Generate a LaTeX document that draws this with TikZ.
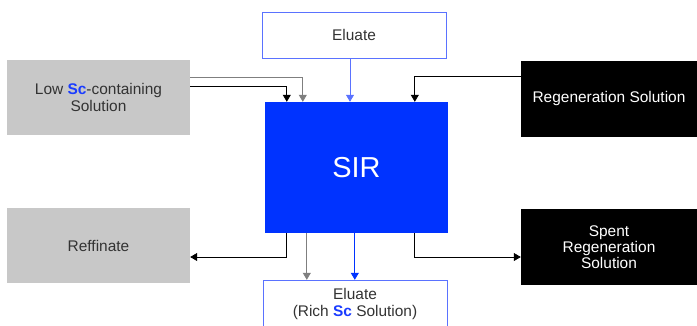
\documentclass[tikz,border=0pt]{standalone}
\usepackage{fontspec}
\setmainfont{Liberation Sans}
\usetikzlibrary{arrows.meta,positioning}

\definecolor{sirblue}{HTML}{0033FF}
\definecolor{scblue}{HTML}{1A3CFF}
\definecolor{lightline}{HTML}{5A72FF}
\definecolor{boxgray}{HTML}{C8C8C8}
\definecolor{txtgray}{HTML}{333333}
\definecolor{linegray}{HTML}{7F7F7F}

\newcommand{\Sc}{\textcolor{scblue}{\textbf{Sc}}}

\tikzset{
  graybox/.style={fill=boxgray, text=txtgray, minimum width=183bp, minimum height=75bp, align=center, inner sep=0pt},
  blackbox/.style={fill=black, text=white, minimum width=176bp, minimum height=76bp, align=center, inner sep=0pt},
  elubox/.style={draw=lightline, fill=white, text=txtgray, minimum width=184bp, minimum height=46bp, align=center, inner sep=0pt},
  flow/.style={-{Triangle[length=7bp,width=8bp]}, line width=0.8bp},
}

\begin{document}
\begin{tikzpicture}[x=1bp, y=-1bp, font=\fontsize{15.5}{16.2}\selectfont]
\useasboundingbox (0,0) rectangle (697,325);
\clip (0,0) rectangle (697,325);

% boxes
\node[graybox] (low) at (98.5,97.5) {Low \Sc-containing\\Solution};
\node[elubox] (eluin) at (354,35) {Eluate};
\node[fill=sirblue, text=white, minimum width=183bp, minimum height=131bp, inner sep=0pt,
      font=\fontsize{29}{30}\selectfont] (sir) at (356.5,167.5) {SIR};
\node[blackbox] (regen) at (609,98.5) {Regeneration Solution};
\node[graybox] (raff) at (98.5,245.5) {Reffinate};
\node[blackbox] (spent) at (609,247) {Spent\\Regeneration\\Solution};
\node[elubox, minimum height=48bp] (eluout) at (355,304) {Eluate\\(Rich \Sc{} Solution)};

% inflows
\draw[flow, linegray] ([yshift=20.5bp]low.east) -| ([xshift=38bp]sir.north west);
\draw[flow, black] ([yshift=11.5bp]low.east) -| ([xshift=22bp]sir.north west);
\draw[flow, lightline] ([xshift=-4bp]eluin.south) -- ([xshift=-4bp]eluin.south |- sir.north);
\draw[flow, black] ([yshift=22.5bp]regen.west) -| ([xshift=150bp]sir.north west);

% outflows
\draw[flow, black] ([xshift=22bp]sir.south west) |- ([yshift=-11.5bp]raff.east);
\draw[flow, linegray] ([xshift=42bp]sir.south west) -- ([xshift=42bp]sir.south west |- eluout.north);
\draw[flow, sirblue] ([xshift=90bp]sir.south west) -- ([xshift=90bp]sir.south west |- eluout.north);
\draw[flow, black] ([xshift=150bp]sir.south west) |- ([yshift=-10bp]spent.west);
\end{tikzpicture}
\end{document}
